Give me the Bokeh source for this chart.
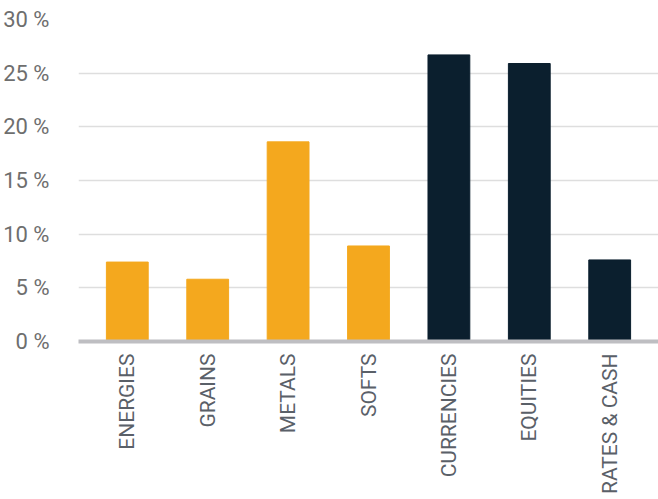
from bokeh.plotting import figure
from bokeh.models import ColumnDataSource, FactorRange, Range1d, CustomJSTickFormatter
from bokeh.embed import file_html
from bokeh.resources import INLINE
from math import pi

categories = ["ENERGIES", "GRAINS", "METALS", "SOFTS", "CURRENCIES", "EQUITIES", "RATES & CASH"]
values = [7.4, 5.8, 18.6, 8.9, 26.7, 25.9, 7.6]
groups = ["commodity", "commodity", "commodity", "commodity", "financial", "financial", "financial"]
group_colors = {"commodity": "#F4A81E", "financial": "#0B1F2E"}
y_ticks = [0, 5, 10, 15, 20, 25, 30]

src = ColumnDataSource(dict(cat=categories, val=values, color=[group_colors[g] for g in groups]))

p = figure(
    x_range=FactorRange(*categories, range_padding=0.107, range_padding_units="absolute"),
    y_range=Range1d(0, 30),
    width=658, height=499,
    output_backend="svg", toolbar_location=None,
    min_border_left=76, min_border_right=0, min_border_top=19, min_border_bottom=158,
)
p.vbar(x="cat", top="val", width=0.52, color="color", source=src)

p.outline_line_color = None
p.background_fill_color = "white"
p.border_fill_color = "white"
p.xgrid.grid_line_color = None
p.ygrid.grid_line_color = "#DEDEDE"
p.ygrid.grid_line_width = 1.3

p.yaxis.ticker = y_ticks
p.yaxis.formatter = CustomJSTickFormatter(code="return tick + ' %';")
p.yaxis.axis_line_color = None
p.yaxis.major_tick_line_color = None
p.yaxis.minor_tick_line_color = None
p.yaxis.major_label_standoff = 23
p.yaxis.major_label_text_font = "Roboto"
p.yaxis.major_label_text_font_size = "22px"
p.yaxis.major_label_text_color = "#6E6E6E"

p.xaxis.axis_line_color = "#BEBEC2"
p.xaxis.axis_line_width = 4
p.xaxis.major_tick_line_color = None
p.xaxis.minor_tick_line_color = None
p.xaxis.major_tick_in = 0
p.xaxis.major_tick_out = 0
p.xaxis.major_label_orientation = pi / 2
p.xaxis.major_label_standoff = 12
p.xaxis.major_label_text_font = "Roboto"
p.xaxis.major_label_text_font_size = "21px"
p.xaxis.major_label_text_color = "#5A6068"

open("out.html", "w").write(file_html(p, INLINE))
